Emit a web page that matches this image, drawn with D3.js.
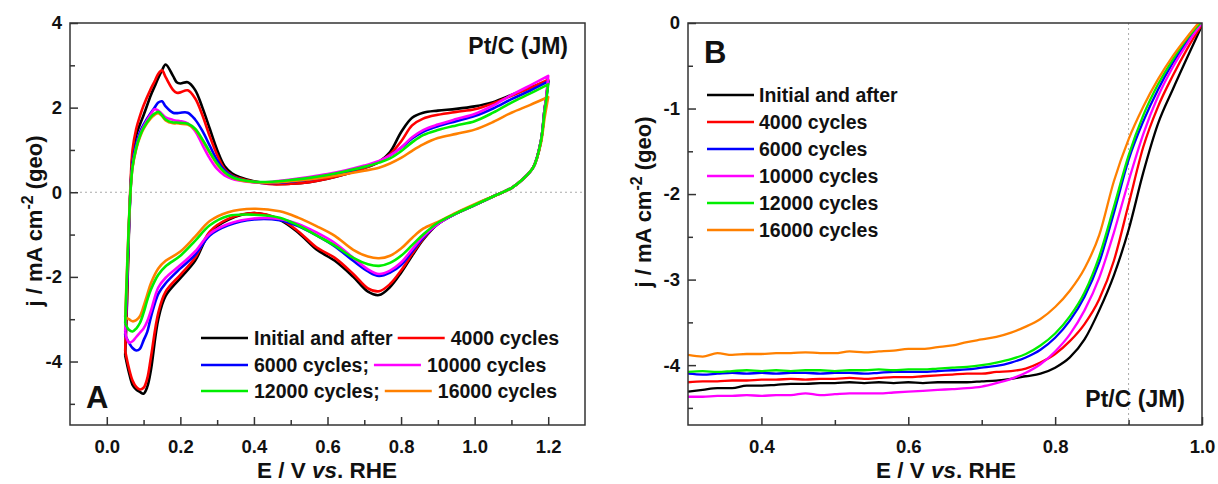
<!DOCTYPE html>
<html><head><meta charset="utf-8">
<script src="https://cdn.jsdelivr.net/npm/d3@7"></script>
<style>
body{margin:0;background:#fff}
svg{display:block}
text{font-family:Arial,"Liberation Sans",sans-serif;font-weight:bold;fill:#111}
</style>
</head><body>
<svg id="chart" width="1218" height="484"></svg>
<script>
// ---------------- DATA ----------------
const seriesNames = ["Initial and after","4000 cycles","6000 cycles","10000 cycles","12000 cycles","16000 cycles"];
const legendLabelsA = ["Initial and after","4000 cycles","6000 cycles;","10000 cycles","12000 cycles;","16000 cycles"];
const seriesColors = ["#000000","#ff0000","#0000ff","#ff00ff","#00ee00","#ff8000"];

// Panel A: cyclic voltammograms (E in V, j in mA cm-2)
const cvAnodicE = [0.05,0.055,0.06,0.065,0.07,0.08,0.09,0.10,0.12,0.13,0.14,0.15,0.16,0.18,0.19,0.20,0.22,0.24,0.26,0.28,0.30,0.32,0.34,0.36,0.40,0.45,0.50,0.55,0.60,0.65,0.70,0.74,0.77,0.80,0.83,0.86,0.90,0.95,1.00,1.05,1.10,1.15,1.20];
const cvAnodicInitial = [-3.85,-2.6,-1.0,0.15,0.85,1.35,1.6,1.82,2.3,2.5,2.7,2.88,3.02,2.75,2.6,2.57,2.6,2.42,2.0,1.5,1.0,0.62,0.45,0.36,0.26,0.2,0.2,0.24,0.32,0.43,0.57,0.72,0.95,1.42,1.76,1.88,1.93,1.97,2.03,2.13,2.30,2.47,2.63];
const cvAnodic4000 = [-3.75,-2.5,-0.9,0.3,1.0,1.5,1.8,2.05,2.45,2.62,2.8,2.88,2.72,2.42,2.35,2.36,2.41,2.22,1.82,1.32,0.88,0.55,0.4,0.33,0.25,0.19,0.2,0.24,0.32,0.43,0.57,0.72,0.9,1.2,1.58,1.74,1.83,1.9,1.96,2.1,2.28,2.46,2.66];
const cvAnodic6000 = [-3.38,-2.2,-0.9,0.15,0.7,1.15,1.42,1.6,1.88,2.0,2.12,2.15,2.03,1.88,1.87,1.88,1.88,1.72,1.45,1.1,0.76,0.52,0.38,0.31,0.24,0.22,0.25,0.3,0.38,0.48,0.6,0.72,0.87,1.05,1.27,1.43,1.56,1.68,1.8,1.98,2.2,2.4,2.62];
const cvAnodic10000 = [-3.3,-2.0,-0.8,0.1,0.6,1.05,1.35,1.55,1.85,1.96,1.93,1.85,1.77,1.71,1.69,1.68,1.63,1.45,1.12,0.8,0.55,0.4,0.32,0.28,0.24,0.25,0.3,0.36,0.43,0.52,0.63,0.74,0.87,1.06,1.3,1.47,1.6,1.73,1.85,2.05,2.3,2.52,2.75];
const cvAnodic12000 = [-3.1,-1.9,-0.75,0.1,0.6,1.05,1.33,1.52,1.78,1.86,1.9,1.82,1.72,1.65,1.65,1.64,1.62,1.5,1.25,0.95,0.68,0.48,0.36,0.3,0.25,0.25,0.29,0.34,0.41,0.5,0.6,0.7,0.8,0.97,1.18,1.35,1.47,1.58,1.68,1.88,2.12,2.33,2.55];
const cvAnodic16000 = [-2.95,-1.8,-0.7,0.1,0.58,1.02,1.3,1.5,1.75,1.83,1.87,1.8,1.7,1.63,1.63,1.62,1.6,1.48,1.23,0.93,0.66,0.47,0.35,0.29,0.24,0.23,0.26,0.3,0.36,0.43,0.51,0.58,0.68,0.81,0.98,1.13,1.28,1.38,1.48,1.66,1.88,2.06,2.25];

const cvCathodicE = [1.20,1.195,1.19,1.18,1.16,1.13,1.10,1.05,1.00,0.95,0.90,0.86,0.83,0.80,0.77,0.74,0.71,0.67,0.62,0.57,0.52,0.47,0.40,0.33,0.28,0.24,0.20,0.16,0.14,0.12,0.11,0.10,0.09,0.08,0.07,0.06,0.05];
const cvCathodicInitial = [2.63,2.25,1.95,1.2,0.6,0.3,0.1,-0.1,-0.3,-0.5,-0.75,-1.12,-1.5,-1.9,-2.24,-2.43,-2.35,-2.0,-1.62,-1.35,-0.95,-0.65,-0.49,-0.65,-0.96,-1.62,-2.03,-2.45,-3.0,-4.2,-4.6,-4.76,-4.72,-4.66,-4.55,-4.25,-3.85];
const cvCathodic4000 = [2.66,2.28,1.95,1.2,0.6,0.3,0.1,-0.1,-0.3,-0.5,-0.75,-1.1,-1.46,-1.85,-2.17,-2.34,-2.27,-1.93,-1.55,-1.3,-0.92,-0.63,-0.49,-0.63,-0.93,-1.55,-1.95,-2.35,-2.85,-3.9,-4.4,-4.62,-4.66,-4.6,-4.45,-4.15,-3.75];
const cvCathodic6000 = [2.62,2.25,1.95,1.2,0.6,0.3,0.1,-0.1,-0.3,-0.5,-0.75,-1.08,-1.4,-1.72,-1.9,-1.98,-1.87,-1.62,-1.28,-1.02,-0.8,-0.66,-0.64,-0.78,-1.02,-1.48,-1.8,-2.15,-2.4,-2.95,-3.3,-3.5,-3.7,-3.74,-3.68,-3.55,-3.38];
const cvCathodic10000 = [2.75,2.3,1.95,1.2,0.6,0.3,0.1,-0.1,-0.3,-0.5,-0.75,-1.05,-1.35,-1.66,-1.85,-1.93,-1.82,-1.55,-1.2,-0.95,-0.75,-0.63,-0.62,-0.75,-0.98,-1.4,-1.72,-2.02,-2.25,-2.8,-3.05,-3.22,-3.32,-3.42,-3.52,-3.55,-3.3];
const cvCathodic12000 = [2.55,2.2,1.9,1.2,0.6,0.3,0.1,-0.1,-0.3,-0.5,-0.72,-1.0,-1.25,-1.5,-1.67,-1.74,-1.7,-1.55,-1.26,-1.02,-0.78,-0.6,-0.53,-0.56,-0.78,-1.15,-1.5,-1.75,-1.95,-2.3,-2.55,-2.85,-3.09,-3.22,-3.29,-3.25,-3.1];
const cvCathodic16000 = [2.25,2.0,1.75,1.15,0.6,0.3,0.1,-0.1,-0.28,-0.48,-0.7,-0.86,-1.08,-1.33,-1.5,-1.56,-1.52,-1.36,-1.03,-0.8,-0.6,-0.45,-0.39,-0.47,-0.68,-1.05,-1.4,-1.62,-1.8,-2.15,-2.42,-2.7,-2.93,-3.02,-3.05,-3.0,-2.95];

// Panel B: ORR polarization curves
const lsvE = [0.30,0.32,0.34,0.36,0.38,0.40,0.42,0.44,0.46,0.48,0.50,0.52,0.54,0.56,0.58,0.60,0.62,0.64,0.66,0.68,0.70,0.72,0.74,0.76,0.78,0.80,0.82,0.84,0.86,0.88,0.90,0.92,0.94,0.96,0.98,1.00];
const lsvInitial = [-4.31,-4.29,-4.27,-4.27,-4.24,-4.24,-4.23,-4.22,-4.22,-4.21,-4.21,-4.20,-4.21,-4.20,-4.21,-4.20,-4.21,-4.20,-4.20,-4.20,-4.19,-4.18,-4.16,-4.13,-4.10,-4.03,-3.91,-3.70,-3.36,-2.95,-2.42,-1.75,-1.18,-0.78,-0.40,-0.03];
const lsv4000 = [-4.20,-4.19,-4.19,-4.18,-4.18,-4.17,-4.17,-4.16,-4.17,-4.16,-4.16,-4.15,-4.16,-4.15,-4.14,-4.14,-4.13,-4.12,-4.11,-4.10,-4.10,-4.08,-4.07,-4.04,-3.97,-3.87,-3.72,-3.52,-3.23,-2.78,-2.12,-1.45,-0.98,-0.62,-0.30,-0.02];
const lsv6000 = [-4.10,-4.11,-4.10,-4.09,-4.10,-4.09,-4.10,-4.09,-4.09,-4.10,-4.09,-4.09,-4.10,-4.09,-4.08,-4.08,-4.08,-4.07,-4.06,-4.05,-4.03,-4.01,-3.97,-3.91,-3.82,-3.68,-3.48,-3.20,-2.80,-2.22,-1.60,-1.15,-0.78,-0.47,-0.21,0.0];
const lsv10000 = [-4.37,-4.37,-4.36,-4.36,-4.35,-4.36,-4.35,-4.35,-4.33,-4.35,-4.34,-4.33,-4.33,-4.33,-4.32,-4.31,-4.30,-4.29,-4.28,-4.27,-4.25,-4.21,-4.16,-4.09,-3.99,-3.84,-3.64,-3.36,-2.98,-2.45,-1.85,-1.30,-0.86,-0.52,-0.24,0.0];
const lsv12000 = [-4.08,-4.07,-4.08,-4.07,-4.06,-4.07,-4.06,-4.07,-4.06,-4.06,-4.07,-4.06,-4.06,-4.05,-4.06,-4.05,-4.05,-4.04,-4.03,-4.02,-4.00,-3.97,-3.93,-3.87,-3.77,-3.63,-3.43,-3.15,-2.73,-2.15,-1.55,-1.08,-0.72,-0.43,-0.18,0.02];
const lsv16000 = [-3.88,-3.90,-3.86,-3.88,-3.87,-3.87,-3.86,-3.86,-3.85,-3.86,-3.86,-3.84,-3.85,-3.84,-3.83,-3.81,-3.81,-3.79,-3.77,-3.73,-3.70,-3.67,-3.62,-3.55,-3.46,-3.32,-3.13,-2.87,-2.48,-1.85,-1.36,-0.98,-0.66,-0.39,-0.16,0.05];

// Tick values
const aXMajor = [0,0.2,0.4,0.6,0.8,1.0,1.2];
const aXMinor = [0.1,0.3,0.5,0.7,0.9,1.1];
const aYMajor = [-4,-2,0,2,4];
const aYMinor = [-5,-3,-1,1,3];
const bXMajor = [0.4,0.6,0.8,1.0];
const bXMinor = [0.5,0.7,0.9];
const bYMajor = [0,-1,-2,-3,-4];
const bYMinor = [-0.5,-1.5,-2.5,-3.5,-4.5];

// ---------------- DRAWING ----------------
const svg = d3.select("#chart");
const cvAnodic = [cvAnodicInitial,cvAnodic4000,cvAnodic6000,cvAnodic10000,cvAnodic12000,cvAnodic16000];
const cvCathodic = [cvCathodicInitial,cvCathodic4000,cvCathodic6000,cvCathodic10000,cvCathodic12000,cvCathodic16000];
const lsv = [lsvInitial,lsv4000,lsv6000,lsv10000,lsv12000,lsv16000];

const FRAME = "#333";
function axes(g, x, y, xMaj, xMin, yMaj, yMin, xFmt) {
  const [x0,x1] = x.range(), [y0,y1] = y.range();
  const bx = g.append("g").attr("transform",`translate(0,${y0})`)
    .call(d3.axisBottom(x).tickValues(xMaj).tickSizeInner(-8).tickSizeOuter(0).tickPadding(15).tickFormat(xFmt));
  const bxm = g.append("g").attr("transform",`translate(0,${y0})`)
    .call(d3.axisBottom(x).tickValues(xMin).tickSizeInner(-5).tickSizeOuter(0).tickFormat(""));
  const ly = g.append("g").attr("transform",`translate(${x0},0)`)
    .call(d3.axisLeft(y).tickValues(yMaj).tickSizeInner(-8).tickSizeOuter(0).tickPadding(8).tickFormat(d=>String(d)));
  const lym = g.append("g").attr("transform",`translate(${x0},0)`)
    .call(d3.axisLeft(y).tickValues(yMin).tickSizeInner(-5).tickSizeOuter(0).tickFormat(""));
  [bx,bxm,ly,lym].forEach(a=>{
    a.select(".domain").remove();
    a.selectAll("line").attr("stroke",FRAME).attr("stroke-width",1.5);
    a.selectAll("text").attr("font-size",18.5).attr("font-family","Arial, 'Liberation Sans', sans-serif").attr("font-weight","bold").attr("fill","#111");
  });
  g.append("rect").attr("x",x0).attr("y",y1).attr("width",x1-x0).attr("height",y0-y1)
    .attr("fill","none").attr("stroke",FRAME).attr("stroke-width",1.5);
}
function yTitle(g, x, yc) {
  const t = g.append("text").attr("transform",`translate(${x},${yc}) rotate(-90)`)
    .attr("text-anchor","middle").attr("font-size",22);
  t.append("tspan").text("j / mA cm");
  t.append("tspan").attr("dy",-9).attr("font-size",16).text("-2");
  t.append("tspan").attr("dy",9).text(" (geo)");
}
function xTitle(g, xc, yb) {
  const t = g.append("text").attr("x",xc).attr("y",yb).attr("text-anchor","middle").attr("font-size",22.5);
  t.append("tspan").text("E / V ");
  t.append("tspan").attr("font-style","italic").text("vs");
  t.append("tspan").text(". RHE");
}

// ----- Panel A -----
const xA = d3.scaleLinear().domain([-0.1,1.3]).range([70,585]);
const yA = d3.scaleLinear().domain([-5.5,4]).range([425,23]);
const gA = svg.append("g");
svg.append("defs").append("clipPath").attr("id","clipA").append("rect")
  .attr("x",70).attr("y",23).attr("width",515).attr("height",402);
gA.append("line").attr("x1",xA(-0.1)).attr("x2",xA(1.3)).attr("y1",yA(0)).attr("y2",yA(0))
  .attr("stroke","#aaa").attr("stroke-width",1).attr("stroke-dasharray","2,3");
const lineA = d3.line().x(d=>xA(d[0])).y(d=>yA(d[1])).curve(d3.curveCatmullRom.alpha(0.5));
const orderA = [0,1,2,3,5,4];
const curvesA = gA.append("g").attr("clip-path","url(#clipA)");
orderA.forEach(i=>{
  const pts = cvAnodicE.map((e,k)=>[e,cvAnodic[i][k]]).concat(cvCathodicE.map((e,k)=>[e,cvCathodic[i][k]]));
  curvesA.append("path").attr("d",lineA(pts)).attr("fill","none")
    .attr("stroke",seriesColors[i]).attr("stroke-width",2.6).attr("stroke-linejoin","round");
});
axes(gA, xA, yA, aXMajor, aXMinor, aYMajor, aYMinor, d3.format(".1f"));
yTitle(gA, 42, 221);
xTitle(gA, 327, 478);
gA.append("text").attr("x",568).attr("y",54).attr("text-anchor","end").attr("font-size",23).text("Pt/C (JM)");
gA.append("text").attr("x",86).attr("y",408).attr("font-size",31).text("A");

// legend A (3 rows x 2 columns)
const legRowsA = [[0,1],[2,3],[4,5]];
const legBaseA = [345,372,398];
legRowsA.forEach((row,r)=>{
  const yb = legBaseA[r], yl = yb-7;
  let x = 201;
  row.forEach(i=>{
    gA.append("line").attr("x1",x).attr("x2",x+47).attr("y1",yl).attr("y2",yl)
      .attr("stroke",seriesColors[i]).attr("stroke-width",2.6);
    const t = gA.append("text").attr("x",x+53).attr("y",yb).attr("font-size",19.5).text(legendLabelsA[i]);
    x = x + 53 + t.node().getComputedTextLength() + 5;
  });
});

// ----- Panel B -----
const xB = d3.scaleLinear().domain([0.3,1.0]).range([688,1202]);
const yB = d3.scaleLinear().domain([-4.7,0]).range([425,23]);
const gB = svg.append("g");
svg.select("defs").append("clipPath").attr("id","clipB").append("rect")
  .attr("x",688).attr("y",23).attr("width",514).attr("height",402);
gB.append("line").attr("x1",xB(0.9)).attr("x2",xB(0.9)).attr("y1",yB(0)).attr("y2",yB(-4.7))
  .attr("stroke","#aaa").attr("stroke-width",1).attr("stroke-dasharray","2,3");
const lineB = d3.line().x(d=>xB(d[0])).y(d=>yB(d[1])).curve(d3.curveMonotoneX);
const curvesB = gB.append("g").attr("clip-path","url(#clipB)");
[0,1,2,3,4,5].forEach(i=>{
  const pts = lsvE.map((e,k)=>[e,lsv[i][k]]);
  curvesB.append("path").attr("d",lineB(pts)).attr("fill","none")
    .attr("stroke",seriesColors[i]).attr("stroke-width",2.3);
});
axes(gB, xB, yB, bXMajor, bXMinor, bYMajor, bYMinor, d3.format(".1f"));
yTitle(gB, 651, 202);
xTitle(gB, 946, 478);
gB.append("text").attr("x",1185).attr("y",407).attr("text-anchor","end").attr("font-size",23).text("Pt/C (JM)");
gB.append("text").attr("x",704).attr("y",63).attr("font-size",31).text("B");
const legLineYB = [95,122,149,176,203,230];
seriesNames.forEach((n,i)=>{
  gB.append("line").attr("x1",707).attr("x2",754).attr("y1",legLineYB[i]).attr("y2",legLineYB[i])
    .attr("stroke",seriesColors[i]).attr("stroke-width",2.6);
  gB.append("text").attr("x",759).attr("y",legLineYB[i]+7).attr("font-size",19.5).text(n);
});
</script>
</body></html>
